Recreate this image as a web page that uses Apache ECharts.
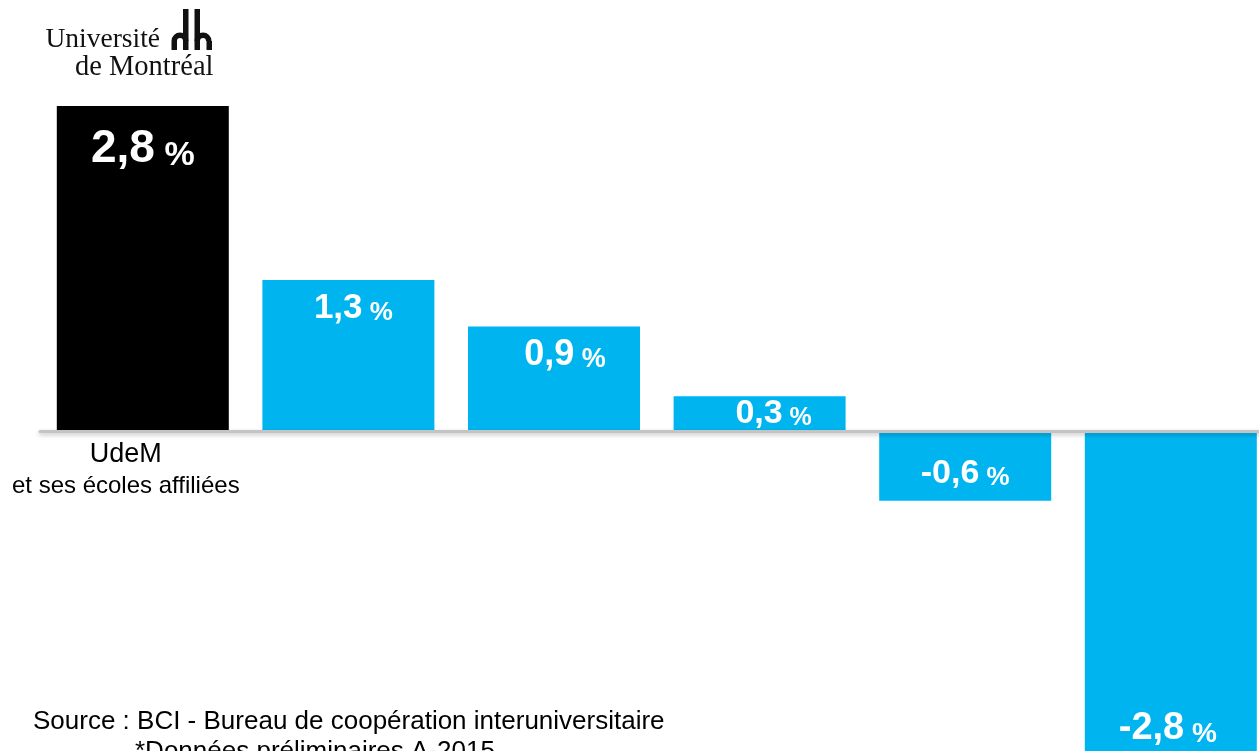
<!DOCTYPE html>
<html>
<head>
<meta charset="utf-8">
<script src="https://cdn.jsdelivr.net/npm/echarts@6/dist/echarts.min.js"></script>
<style>
  html, body { margin: 0; padding: 0; background: #fff; }
  #chart { width: 1259px; height: 751px; }
</style>
</head>
<body>
<div id="chart"></div>
<script>
// données
var categories = ['UdeM', 'Établissement B', 'Établissement C', 'Établissement D', 'Établissement E', 'Établissement F'];
var values = [2.8, 1.3, 0.9, 0.3, -0.6, -2.8];
var firstLabel = ['UdeM', 'et ses écoles affiliées'];
var sourceLines = ['Source : BCI - Bureau de coopération interuniversitaire', '*Données préliminaires A-2015'];

// mise en forme des étiquettes (position dans la barre, tailles)
var barColors = ['#000000', '#00b5ef', '#00b5ef', '#00b5ef', '#00b5ef', '#00b5ef'];
var labelLayout = [
    { pos: ['50%', 43.5], off: [0, 0], n: 46, p: 34 },
    { pos: ['50%', 28], off: [5, 0], n: 35, p: 26 },
    { pos: ['50%', 29], off: [11, 0], n: 36, p: 27 },
    { pos: ['50%', 17.5], off: [14, 0], n: 34, p: 25 },
    { pos: ['50%', 43], off: [0, 0], n: 34, p: 26 },
    { pos: ['50%', '100%'], off: [-3, -27], n: 38, p: 28 }
];

function fmt(v) {
    return v.toFixed(1).replace('.', ',');
}

var seriesData = values.map(function (v, i) {
    var l = labelLayout[i];
    return {
        value: v,
        itemStyle: { color: barColors[i] },
        label: {
            show: true,
            position: l.pos,
            offset: l.off,
            align: 'center',
            verticalAlign: 'middle',
            formatter: '{n|' + fmt(v) + '}{p| %}',
            rich: {
                n: { fontSize: l.n, lineHeight: l.n, fontWeight: 'bold', color: '#fff', verticalAlign: 'bottom', fontFamily: 'Liberation Sans' },
                p: { fontSize: l.p, lineHeight: l.p, fontWeight: 'bold', color: '#fff', verticalAlign: 'bottom', fontFamily: 'Liberation Sans' }
            }
        }
    };
});

var logoColor = '#111';
var logo = [
    { type: 'text', x: 160, y: 54, style: { text: 'Université', fill: logoColor, font: '27.5px "Liberation Serif"', textAlign: 'right', textVerticalAlign: 'bottom' } },
    { type: 'text', x: 75, y: 82, style: { text: 'de Montréal', fill: logoColor, font: '28.5px "Liberation Serif"', textAlign: 'left', textVerticalAlign: 'bottom' } },
    { type: 'rect', shape: { x: 183, y: 9, width: 5.5, height: 41 }, style: { fill: logoColor } },
    { type: 'rect', shape: { x: 194.5, y: 9, width: 5.5, height: 41 }, style: { fill: logoColor } },
    { type: 'rect', shape: { x: 171.5, y: 41, width: 5.5, height: 9 }, style: { fill: logoColor } },
    { type: 'rect', shape: { x: 206.5, y: 41, width: 5.5, height: 9 }, style: { fill: logoColor } },
    { type: 'arc', shape: { cx: 180, cy: 41, r: 5.75, startAngle: Math.PI, endAngle: Math.PI * 2 }, style: { fill: null, stroke: logoColor, lineWidth: 5.5 } },
    { type: 'arc', shape: { cx: 203, cy: 41, r: 5.75, startAngle: Math.PI, endAngle: Math.PI * 2 }, style: { fill: null, stroke: logoColor, lineWidth: 5.5 } }
];

var chart = echarts.init(document.getElementById('chart'));
var option = {
    animation: false,
    backgroundColor: '#fff',
    grid: { left: 40, right: -14.6, top: 106, bottom: -5, containLabel: false, outerBoundsMode: 'none' },
    xAxis: {
        type: 'category',
        data: categories,
        z: 5,
        axisTick: { show: false },
        axisLabel: { show: false },
        axisLine: {
            onZero: true,
            lineStyle: {
                color: '#c4c4c4',
                width: 3,
                shadowColor: 'rgba(0,0,0,0.25)',
                shadowBlur: 4,
                shadowOffsetY: 2
            }
        }
    },
    yAxis: {
        type: 'value',
        min: -2.8,
        max: 2.8,
        show: false
    },
    series: [{
        type: 'bar',
        barWidth: 172,
        data: seriesData
    }],
    graphic: logo.concat([
        { type: 'text', x: 33, y: 722, style: { text: sourceLines[0], fill: '#000', font: '26px "Liberation Sans"', textAlign: 'left', textVerticalAlign: 'middle' } },
        { type: 'text', x: 135, y: 752, style: { text: sourceLines[1], fill: '#000', font: '26px "Liberation Sans"', textAlign: 'left', textVerticalAlign: 'middle' } }
    ])
};
chart.setOption(option);

// étiquette de la première catégorie, placée sous la ligne du zéro
var pt = chart.convertToPixel({ gridIndex: 0 }, [categories[0], 0]);
chart.setOption({
    graphic: [
        { type: 'text', id: 'cat0a', x: pt[0] - 17, y: pt[1] + 24, style: { text: firstLabel[0], fill: '#000', font: '27px "Liberation Sans"', textAlign: 'center', textVerticalAlign: 'middle' } },
        { type: 'text', id: 'cat0b', x: pt[0] - 17, y: pt[1] + 55, style: { text: firstLabel[1], fill: '#000', font: '24px "Liberation Sans"', textAlign: 'center', textVerticalAlign: 'middle' } }
    ]
});
</script>
</body>
</html>
